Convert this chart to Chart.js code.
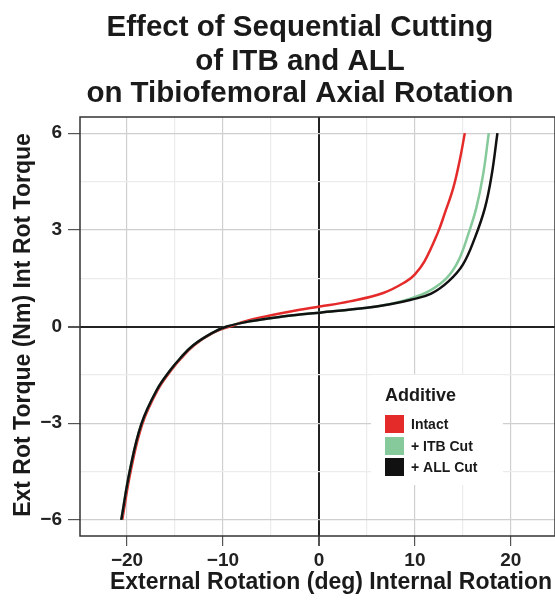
<!DOCTYPE html>
<html>
<head>
<meta charset="utf-8">
<script src="https://cdn.jsdelivr.net/npm/chart.js@4"></script>
<style>
  body { margin: 0; background: #fff; }
  canvas { display: block; }
</style>
</head>
<body>
<canvas id="myChart" width="555" height="603"></canvas>
<script>
// values (rotation in deg, torque in Nm)
const intactX = [-20.5, -19.6, -18.4, -16.8, -15.4, -14.4, -13.0, -11.0, -9.3, -7.2, -3.8, -2.0, 0.1, 3.2, 6.7, 9.1, 10.0, 11.0, 12.4, 13.1, 14.0, 14.7, 15.2];
const intactY = [-6.0, -4.46, -3.02, -1.97, -1.36, -1.0, -0.58, -0.19, 0.0, 0.2, 0.42, 0.52, 0.62, 0.78, 1.04, 1.4, 1.62, 2.02, 2.92, 3.5, 4.3, 5.2, 6.0];

const itbX = [-20.6, -19.7, -18.5, -16.9, -15.5, -14.5, -13.1, -11.0, -9.6, -7.2, -3.8, -2.0, 0.1, 5.0, 7.4, 9.5, 11.6, 13.3, 14.5, 15.55, 16.4, 17.1, 17.7];
const itbY = [-6.0, -4.46, -3.02, -1.97, -1.36, -1.0, -0.58, -0.18, 0.0, 0.16, 0.31, 0.37, 0.43, 0.58, 0.70, 0.86, 1.12, 1.5, 2.02, 2.85, 3.68, 4.7, 6.0];

const allX = [-20.6, -19.7, -18.5, -16.9, -15.5, -14.5, -13.1, -11.0, -9.6, -7.2, -3.8, -2.0, 0.1, 5.0, 7.4, 9.6, 11.7, 13.5, 15.0, 16.25, 17.3, 18.0, 18.6];
const allY = [-6.0, -4.46, -3.02, -1.97, -1.36, -1.0, -0.58, -0.18, 0.0, 0.16, 0.31, 0.37, 0.43, 0.58, 0.69, 0.83, 1.02, 1.4, 1.92, 2.75, 3.68, 4.7, 6.0];

const seriesNames = ['Intact', '+ ITB Cut', '+ ALL Cut'];
const seriesColors = ['#e52a2a', '#86c99b', '#111111'];
const xTickLabels = [-20, -10, 0, 10, 20];
const yTickLabels = [-6, -3, 0, 3, 6];

const titleLines = ['Effect of Sequential Cutting', 'of ITB and ALL', 'on Tibiofemoral Axial Rotation'];
const xTitle = 'External Rotation (deg) Internal Rotation';
const yTitle = 'Ext Rot Torque (Nm) Int Rot Torque';
const legendTitle = 'Additive';

function toPoints(xs, ys) {
    return xs.map((x, i) => ({ x: x, y: ys[i] }));
}

const FONT = '"Liberation Sans", Arial, Helvetica, sans-serif';

const decorations = {
    id: 'decorations',
    beforeDatasetsDraw(chart) {
        const { ctx, chartArea } = chart;
        ctx.save();
        ctx.strokeStyle = '#333';
        ctx.lineWidth = 1.5;
        ctx.strokeRect(chartArea.left, chartArea.top, chartArea.right - chartArea.left, chartArea.bottom - chartArea.top);
        ctx.restore();
    },
    afterDraw(chart) {
        const { ctx } = chart;
        ctx.save();
        ctx.fillStyle = '#1a1a1a';
        ctx.textAlign = 'center';
        ctx.textBaseline = 'alphabetic';

        // main title
        ctx.font = 'bold 29.5px ' + FONT;
        const baselines = [36, 70, 102];
        titleLines.forEach((t, i) => ctx.fillText(t, 300, baselines[i]));

        // axis titles
        ctx.font = 'bold 23px ' + FONT;
        ctx.fillText(xTitle, 331, 589);
        ctx.save();
        ctx.translate(30, 325);
        ctx.rotate(-Math.PI / 2);
        ctx.fillText(yTitle, 0, 0);
        ctx.restore();

        // legend
        ctx.fillStyle = '#fff';
        ctx.fillRect(371, 375, 132, 110);
        ctx.fillStyle = '#1a1a1a';
        ctx.textAlign = 'left';
        ctx.font = 'bold 18px ' + FONT;
        ctx.fillText(legendTitle, 385, 401);
        ctx.font = 'bold 14px ' + FONT;
        ctx.textBaseline = 'middle';
        const rows = [424, 446, 467];
        chart.data.datasets.forEach((ds, i) => {
            ctx.fillStyle = ds.borderColor;
            ctx.fillRect(385, rows[i] - 9, 19, 18);
            ctx.fillStyle = '#1a1a1a';
            ctx.fillText(ds.label, 411, rows[i] + 1);
        });
        ctx.restore();
    }
};

const ctx = document.getElementById('myChart').getContext('2d');
const myChart = new Chart(ctx, {
    type: 'scatter',
    data: {
        datasets: [
            { label: seriesNames[0], data: toPoints(intactX, intactY), borderColor: seriesColors[0], order: 3 },
            { label: seriesNames[1], data: toPoints(itbX, itbY), borderColor: seriesColors[1], order: 2 },
            { label: seriesNames[2], data: toPoints(allX, allY), borderColor: seriesColors[2], order: 1 }
        ].map(ds => Object.assign(ds, {
            showLine: true,
            pointRadius: 0,
            borderWidth: 2.5,
            tension: 0.4,
            backgroundColor: ds.borderColor
        }))
    },
    options: {
        responsive: false,
        animation: false,
        layout: { padding: { top: 117, right: 0, left: 0, bottom: 0 } },
        plugins: {
            legend: { display: false },
            title: { display: false },
            tooltip: { enabled: false }
        },
        scales: {
            x: {
                type: 'linear',
                min: -24.9,
                max: 24.6,
                afterFit: scale => { scale.height = 67; },
                border: { display: false },
                grid: {
                    color: c => c.tick.value === 0 ? '#222' : (c.tick.value % 10 === 0 ? '#cfcfcf' : '#ececec'),
                    lineWidth: c => c.tick.value === 0 ? 2 : 1.2,
                    tickColor: c => c.tick.value % 10 === 0 ? '#555' : 'rgba(0,0,0,0)',
                    tickLength: 10
                },
                ticks: {
                    stepSize: 5,
                    includeBounds: false,
                    maxRotation: 0,
                    autoSkip: false,
                    padding: 3,
                    color: '#222',
                    font: { family: FONT, size: 19, weight: 'bold' },
                    callback: v => xTickLabels.includes(v) ? (v < 0 ? '\u2212' + Math.abs(v) : String(v)) : ''
                }
            },
            y: {
                type: 'linear',
                min: -6.5,
                max: 6.5,
                afterFit: scale => { scale.width = 80; },
                border: { display: false },
                grid: {
                    color: c => c.tick.value === 0 ? '#222' : (c.tick.value % 3 === 0 ? '#cfcfcf' : '#ececec'),
                    lineWidth: c => c.tick.value === 0 ? 2 : 1.2,
                    tickColor: c => c.tick.value % 3 === 0 ? '#555' : 'rgba(0,0,0,0)',
                    tickLength: 12
                },
                ticks: {
                    stepSize: 1.5,
                    includeBounds: false,
                    autoSkip: false,
                    padding: 6,
                    color: '#222',
                    font: { family: FONT, size: 19, weight: 'bold' },
                    callback: v => yTickLabels.includes(v) ? (v < 0 ? '\u2212' + Math.abs(v) : String(v)) : ''
                }
            }
        }
    },
    plugins: [decorations]
});
</script>
</body>
</html>
